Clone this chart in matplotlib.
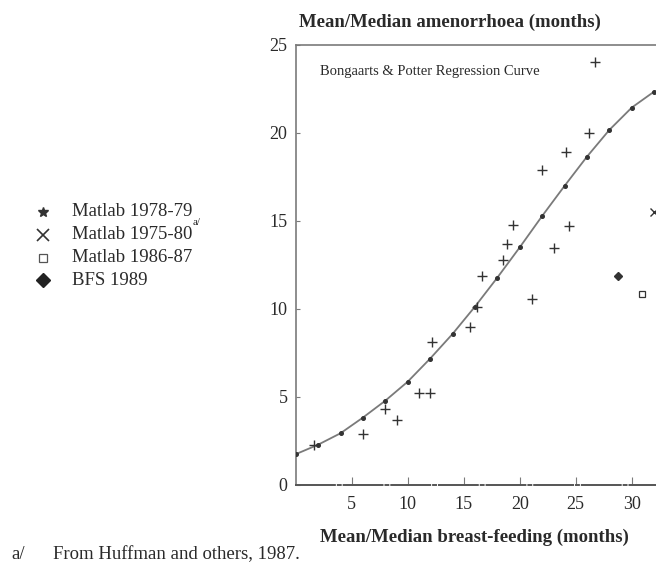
import matplotlib
matplotlib.use("Agg")
import matplotlib.pyplot as plt
from matplotlib.lines import Line2D

plt.rcParams["font.family"] = ["Liberation Serif", "DejaVu Serif"]

# Bongaarts & Potter regression curve (breast-feeding -> amenorrhoea), months
curve_x = [0, 2, 4, 6, 8, 10, 12, 14, 16, 18, 20, 22, 24, 26, 28, 30, 32]
curve_y = [1.75, 2.29, 2.94, 3.83, 4.79, 5.87, 7.18, 8.58, 10.13, 11.78,
           13.50, 15.28, 16.99, 18.65, 20.17, 21.44, 22.35]

# Observed district values
obs_x = [1.6, 6.0, 8.0, 9.0, 11.0, 12.0, 12.2, 15.6, 16.2, 16.6, 18.5, 18.9,
         19.4, 21.1, 22.0, 23.1, 24.1, 24.4, 26.2, 26.7]
obs_y = [2.3, 2.9, 4.3, 3.7, 5.25, 5.25, 8.1, 9.0, 10.1, 11.9, 12.8, 13.7,
         14.8, 10.55, 17.9, 13.45, 18.9, 14.7, 20.0, 24.05]

# National survey estimates
matlab_7580 = (32.0, 15.5)
matlab_8687 = (30.9, 10.85)
bfs_1989 = (28.8, 11.85)

x_ticks = [5, 10, 15, 20, 25, 30]
y_ticks = [0, 5, 10, 15, 20, 25]

fig = plt.figure(figsize=(6.56, 5.65), dpi=100)
ax = fig.add_axes([0.4508, 0.1416, 0.5492, 0.7788])
ax.set_xlim(0, 32.17)
ax.set_ylim(0, 25)

grey = "#7a7a7a"
ink = "#2a2a2a"
ax.plot(curve_x, curve_y, color=grey, lw=1.3, zorder=2)
ax.plot(curve_x, curve_y, ls="none", marker="o", ms=2.6, color="#333333", zorder=3)
ax.plot(obs_x, obs_y, ls="none", marker="+", ms=7, mew=1.0, color="#333333", zorder=3)
ax.plot(*matlab_7580, ls="none", marker="x", ms=6, mew=1.0, color="#333333", clip_on=False)
ax.plot(*matlab_8687, ls="none", marker="s", ms=4, mew=0.9, mfc="white", mec="#333333")
ax.plot(*bfs_1989, ls="none", marker="D", ms=4.5, color="#333333")

ax.spines["right"].set_visible(False)
for s in ["left", "top"]:
    ax.spines[s].set_color(grey)
    ax.spines[s].set_linewidth(1.2)
ax.spines["bottom"].set_color("#555555")
ax.spines["bottom"].set_linewidth(1.4)
ax.spines["bottom"].set_linestyle((0, (20, 1.5, 1.5, 1.5)))

ax.set_xticks(x_ticks)
ax.set_yticks(y_ticks)
ax.tick_params(axis="both", direction="in", width=0.8, color=grey,
               labelsize=13, labelcolor=ink)
ax.tick_params(axis="x", length=6, pad=8)
ax.tick_params(axis="y", length=3, pad=6)

ax.text(0.067, 0.9386, "Bongaarts & Potter Regression Curve", transform=ax.transAxes,
        fontsize=10.5, ha="left", va="center", color=ink)

fig.text(0.686, 0.961, "Mean/Median amenorrhoea (months)", fontsize=13.5,
         fontweight="bold", ha="center", va="center", color=ink)
fig.text(0.7226, 0.0496, "Mean/Median breast-feeding (months)", fontsize=13.5,
         fontweight="bold", ha="center", va="center", color=ink)
fig.text(0.018, 0.0177, "a/", fontsize=13.5, ha="left", va="center", color=ink)
fig.text(0.081, 0.0177, "From Huffman and others, 1987.", fontsize=13.5,
         ha="left", va="center", color=ink)

# Legend entries
legend_rows = [
    ("Matlab 1978-79", dict(marker="*", ms=7, color="#333333")),
    ("Matlab 1975-80", dict(marker="x", ms=8, mew=1.2, color="#333333")),
    ("Matlab 1986-87", dict(marker="s", ms=6, mew=0.9, mfc="white", mec="#555555")),
    ("BFS 1989", dict(marker="D", ms=7, color="#222222")),
]
row_y = [0.6248, 0.5841, 0.5434, 0.5044]
for (label, style), yy in zip(legend_rows, row_y):
    fig.add_artist(Line2D([0.0655], [yy], ls="none", transform=fig.transFigure, **style))
    fig.text(0.1098, yy, label, fontsize=13.5, ha="left", va="center", color=ink)
fig.text(0.294, 0.607, "a/", fontsize=8, ha="left", va="center", color=ink)

fig.savefig("out.png", dpi=100)
